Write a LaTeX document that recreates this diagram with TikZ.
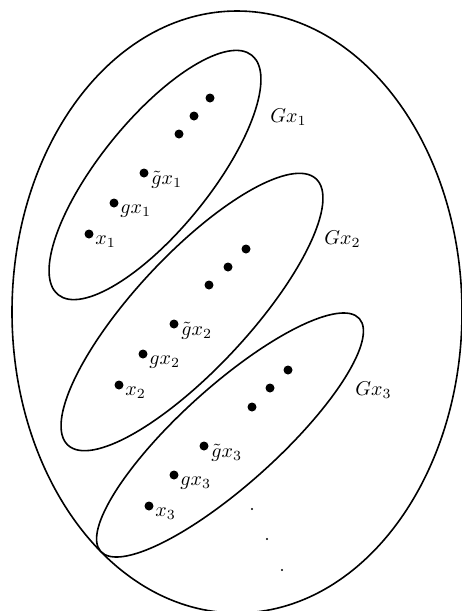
\documentclass[tikz,border=0pt]{standalone}
\begin{document}
\begin{tikzpicture}[x=0.5pt,y=-0.5pt,
  pt/.style={circle, fill, inner sep=0pt, minimum size=4.5pt},
  tinydot/.style={circle, fill, inner sep=0pt, minimum size=1.1pt},
  orbit/.style={line width=0.8pt},
  lab/.style={anchor=base west, inner sep=0pt}]
\useasboundingbox (0,0) rectangle (461,611);

% the whole space
\draw[orbit] (237,312) ellipse [x radius=225, y radius=301];

% the three orbits
\draw[orbit, rotate around={51:(155,175)}] (155,175) ellipse [x radius=154, y radius=55];
\draw[orbit, rotate around={47:(192,312)}] (192,312) ellipse [x radius=182, y radius=57];
\draw[orbit, rotate around={42:(230,435)}] (230,435) ellipse [x radius=174, y radius=49];

% orbit of x_1
\node[pt] (x1)  at (89,234) {};
\node[pt] (gx1) at (114,203) {};
\node[pt] (hx1) at (144,173) {};
\node[pt] (a1)  at (179,134) {};
\node[pt] (b1)  at (194,116) {};
\node[pt] (c1)  at (210,98) {};
\node[lab] at ([shift={(6,10.5)}]x1.center) {$x_1$};
\node[lab] at ([shift={(6,10.5)}]gx1.center) {$gx_1$};
\node[lab] at ([shift={(7,11)}]hx1.center) {$\tilde g x_1$};
\node[lab] (G1) at (270,122) {$Gx_1$};

% orbit of x_2
\node[pt] (x2)  at (119,385) {};
\node[pt] (gx2) at (143,354) {};
\node[pt] (hx2) at (174,324) {};
\node[pt] (a2)  at (209,285) {};
\node[pt] (b2)  at (228,267) {};
\node[pt] (c2)  at (246,249) {};
\node[lab] at ([shift={(6,10.5)}]x2.center) {$x_2$};
\node[lab] at ([shift={(6,10.5)}]gx2.center) {$gx_2$};
\node[lab] at ([shift={(7,11)}]hx2.center) {$\tilde g x_2$};
\node[lab] (G2) at (324,244) {$Gx_2$};

% orbit of x_3
\node[pt] (x3)  at (149,506) {};
\node[pt] (gx3) at (174,475) {};
\node[pt] (hx3) at (204,446) {};
\node[pt] (a3)  at (252,407) {};
\node[pt] (b3)  at (270,388) {};
\node[pt] (c3)  at (288,370) {};
\node[lab] at ([shift={(6,10.5)}]x3.center) {$x_3$};
\node[lab] at ([shift={(6,10.5)}]gx3.center) {$gx_3$};
\node[lab] at ([shift={(7,11)}]hx3.center) {$\tilde g x_3$};
\node[lab] (G3) at (355,395) {$Gx_3$};

% further orbits
\node[tinydot] (d1) at (252,509) {};
\node[tinydot] (d2) at (267,539) {};
\node[tinydot] (d3) at (282,570) {};
\end{tikzpicture}
\end{document}
